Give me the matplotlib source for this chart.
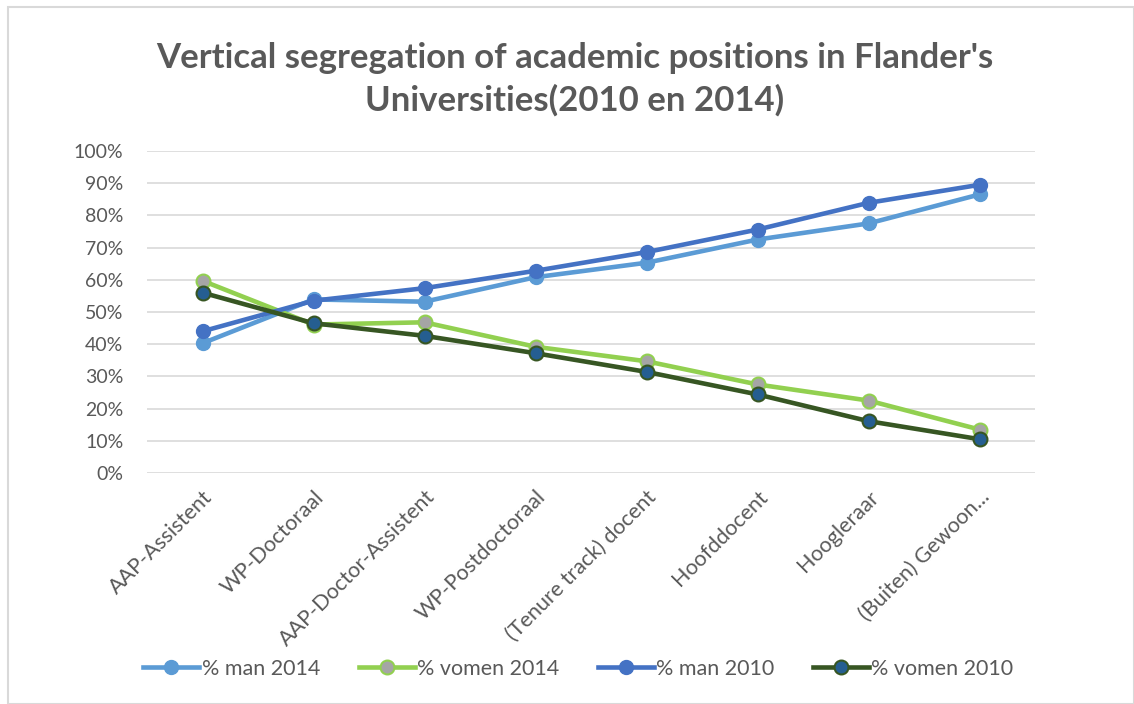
import matplotlib.pyplot as plt
from matplotlib.patches import Rectangle
from matplotlib.ticker import PercentFormatter

plt.rcParams['font.family'] = ['Lato', 'DejaVu Sans']

positions = ['AAP-Assistent', 'WP-Doctoraal', 'AAP-Doctor-Assistent', 'WP-Postdoctoraal',
             '(Tenure track) docent', 'Hoofddocent', 'Hoogleraar', '(Buiten) Gewoon...']
man_2014 = [40.3, 53.9, 53.2, 60.8, 65.3, 72.5, 77.5, 86.5]
vomen_2014 = [59.7, 46.1, 46.8, 39.2, 34.7, 27.5, 22.5, 13.5]
man_2010 = [44.0, 53.5, 57.4, 62.8, 68.6, 75.6, 83.9, 89.5]
vomen_2010 = [56.0, 46.5, 42.6, 37.2, 31.4, 24.4, 16.1, 10.5]

fig = plt.figure(figsize=(11.34, 7.04), dpi=100)
# outer chart border
fig.patches.append(Rectangle((8 / 1134, 0), 1 - 8 / 1134, 1 - 7 / 704, transform=fig.transFigure,
                             fill=False, edgecolor='#D9D9D9', linewidth=1.5))

ax = fig.add_axes([147 / 1134, 1 - 473 / 704, 888 / 1134, 322 / 704])
x = list(range(len(positions)))

lw = 3.3
ms = 10
ax.plot(x, man_2014, color='#5B9BD5', lw=lw, marker='o', ms=ms,
        mfc='#5B9BD5', mec='#5B9BD5', label='% man 2014', zorder=3)
ax.plot(x, vomen_2014, color='#92D050', lw=lw, marker='o', ms=ms,
        mfc='#A5A5A5', mec='#92D050', mew=1.5, label='% vomen 2014', zorder=3)
ax.plot(x, man_2010, color='#4472C4', lw=lw, marker='o', ms=ms,
        mfc='#4472C4', mec='#4472C4', label='% man 2010', zorder=4)
ax.plot(x, vomen_2010, color='#375623', lw=lw, marker='o', ms=ms,
        mfc='#255E91', mec='#375623', mew=1.5, label='% vomen 2010', zorder=4)

ax.set_xlim(-0.5, 7.5)
ax.set_ylim(0, 100)
ax.set_yticks(range(0, 101, 10))
ax.yaxis.set_major_formatter(PercentFormatter(decimals=0))
ax.grid(axis='y', color='#D9D9D9', linewidth=1.2)
ax.set_axisbelow(True)
for s in ax.spines.values():
    s.set_visible(False)
ax.tick_params(axis='y', length=0, labelsize=14, labelcolor='#595959', pad=17)
ax.tick_params(axis='x', length=0, labelsize=15.5, labelcolor='#595959', pad=10)
ax.set_xticks(x)
ax.set_xticklabels(positions, rotation=45, ha='right', rotation_mode='anchor')

fig.text(0.507, 0.918, "Vertical segregation of academic positions in Flander's",
         ha='center', va='center', fontsize=25, fontweight='bold', color='#595959')
fig.text(0.507, 0.857, "Universities(2010 en 2014)",
         ha='center', va='center', fontsize=25, fontweight='bold', color='#595959')

fig.legend(loc='center', bbox_to_anchor=(0.51, 0.05), ncol=4, frameon=False,
           fontsize=15.5, labelcolor='#595959', handlelength=2.6, handletextpad=0.1,
           columnspacing=1.8)

fig.savefig('out.png', dpi=100)
